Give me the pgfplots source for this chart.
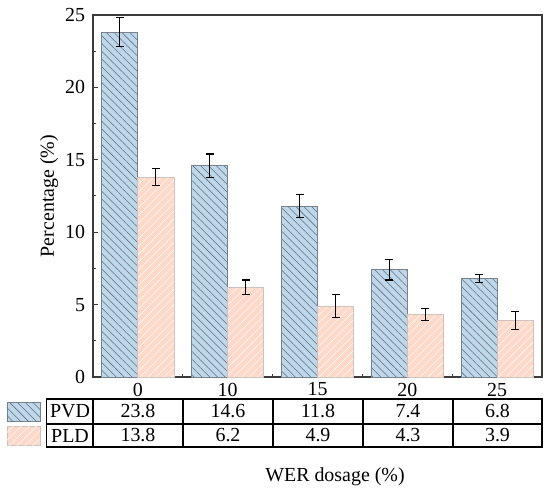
\documentclass[border=0pt]{standalone}
\usepackage{fontspec}
\setmainfont{Liberation Serif}
\usepackage{pgfplots}
\pgfplotsset{compat=1.18}
\usetikzlibrary{patterns.meta}
\definecolor{pvdfill}{RGB}{190,216,235}
\definecolor{pvdhatch}{RGB}{100,110,120}
\definecolor{pvdedge}{RGB}{120,130,140}
\definecolor{pldfill}{RGB}{255,216,200}
\definecolor{pldedge}{RGB}{205,195,190}
\definecolor{axisgray}{RGB}{60,60,60}
\begin{document}
\fontsize{20}{23}\selectfont
\begin{tikzpicture}
\useasboundingbox (-93bp,-117bp) rectangle (457bp,377bp);
\begin{axis}[
  at={(0,0)}, anchor=south west,
  scale only axis, width=449bp, height=362bp,
  xmin=-0.5, xmax=4.5, ymin=0, ymax=25,
  ybar,
  xtick={0,1,2,3,4}, xticklabels={0,10,15,20,25},
  minor xtick={0.5,1.5,2.5,3.5},
  ytick={0,5,10,15,20,25}, minor ytick={2.5,7.5,12.5,17.5,22.5},
  tick align=inside, xtick pos=bottom, ytick pos=left,
  every major x tick/.append style={draw=none},
  major tick length=5bp, minor tick length=3.5bp,
  axis line style={axisgray, line width=1.1bp},
  every tick/.style={axisgray, line width=1bp},
  /pgf/number format/assume math mode=true,
  ticklabel style={font=\fontsize{20}{23}\selectfont},
  xticklabel style={yshift=1bp},
  yticklabel style={xshift=-1bp},
  label style={font=\fontsize{20}{23}\selectfont},
  ylabel={Percentage (\%)},
  ylabel style={at={(axis description cs:-0.098,0.5)}, anchor=center},
  xlabel={WER dosage (\%)},
  xlabel style={at={(axis description cs:0.539,-0.276)}, anchor=center},
]
\addplot[bar width=36bp, bar shift=-18bp, fill=pvdfill, draw=pvdedge, line width=0.8bp,
  postaction={pattern={Lines[angle=-45,distance=5.5bp,line width=0.55bp]}, pattern color=pvdhatch}]
  coordinates {(0,23.8) (1,14.6) (2,11.8) (3,7.4) (4,6.8)};
\addplot[bar width=36bp, bar shift=18bp, fill=pldfill, draw=pldedge, line width=0.8bp,
  postaction={pattern={Lines[angle=45,distance=5.5bp,line width=0.55bp]}, pattern color=white}]
  coordinates {(0,13.8) (1,6.2) (2,4.9) (3,4.3) (4,3.9)};
\addplot[forget plot, bar width=36bp, bar shift=-18bp, draw=none, fill=none,
  error bars/.cd, y dir=both, y explicit,
  error bar style={black, line width=1.1bp},
  error mark options={rotate=90, mark size=4bp, line width=1.1bp, black}]
  coordinates {(0,23.8) +- (0,1.0) (1,14.6) +- (0,0.8) (2,11.8) +- (0,0.8) (3,7.4) +- (0,0.7) (4,6.8) +- (0,0.3)};
\addplot[forget plot, bar width=36bp, bar shift=18bp, draw=none, fill=none,
  error bars/.cd, y dir=both, y explicit,
  error bar style={black, line width=1.1bp},
  error mark options={rotate=90, mark size=4bp, line width=1.1bp, black}]
  coordinates {(0,13.8) +- (0,0.6) (1,6.2) +- (0,0.5) (2,4.9) +- (0,0.8) (3,4.3) +- (0,0.4) (4,3.9) +- (0,0.6)};
\end{axis}
% data table below the axis
\draw[line width=1.1bp] (-46.5bp,-22bp) rectangle (449bp,-70bp);
\draw[line width=1.1bp] (-46.5bp,-47bp) -- (449bp,-47bp);
\draw[line width=1.1bp] (0bp,-22bp) -- (0bp,-70bp);
\draw[line width=1.1bp] (90bp,-22bp) -- (90bp,-70bp);
\draw[line width=1.1bp] (180bp,-22bp) -- (180bp,-70bp);
\draw[line width=1.1bp] (270bp,-22bp) -- (270bp,-70bp);
\draw[line width=1.1bp] (360bp,-22bp) -- (360bp,-70bp);
\path[fill=pvdfill, draw=pvdedge, line width=0.8bp,
  postaction={pattern={Lines[angle=-45,distance=5.5bp,line width=0.55bp]}, pattern color=pvdhatch}]
  (-86bp,-25bp) rectangle (-53bp,-44bp);
\path[fill=pldfill, draw=pldedge, line width=0.8bp,
  postaction={pattern={Lines[angle=45,distance=5.5bp,line width=0.55bp]}, pattern color=white}]
  (-86bp,-49bp) rectangle (-53bp,-68bp);
\node at (-23bp,-34.5bp) {PVD};
\node at (-23bp,-58.5bp) {PLD};
\node at (45bp,-34.5bp) {23.8};
\node at (135bp,-34.5bp) {14.6};
\node at (225bp,-34.5bp) {11.8};
\node at (315bp,-34.5bp) {7.4};
\node at (404.5bp,-34.5bp) {6.8};
\node at (45bp,-58.5bp) {13.8};
\node at (135bp,-58.5bp) {6.2};
\node at (225bp,-58.5bp) {4.9};
\node at (315bp,-58.5bp) {4.3};
\node at (404.5bp,-58.5bp) {3.9};
\end{tikzpicture}
\end{document}
